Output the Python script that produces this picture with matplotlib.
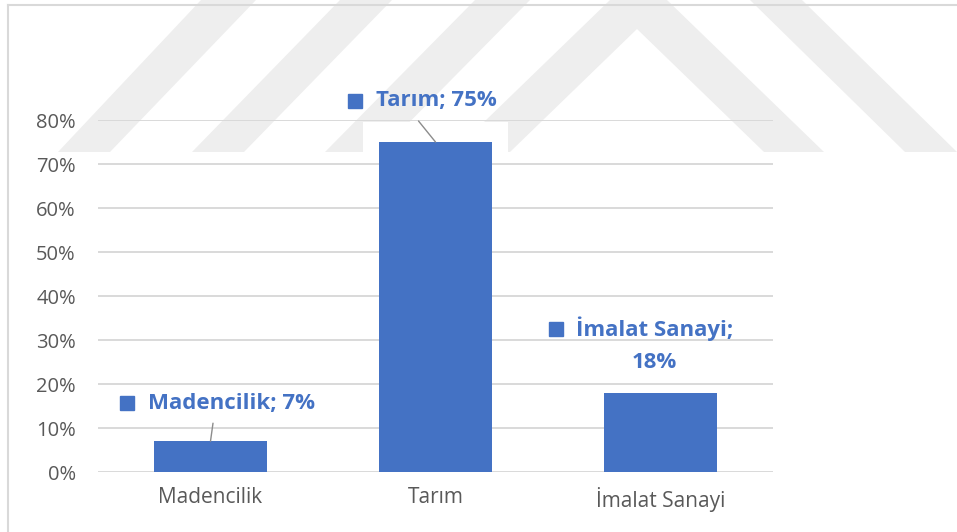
import numpy as np
import matplotlib
matplotlib.use("Agg")
import matplotlib.pyplot as plt
from matplotlib.patches import Polygon, Rectangle
from matplotlib.lines import Line2D
from matplotlib.transforms import ScaledTranslation

# data
categories = ["Madencilik", "Tarım", "İmalat Sanayi"]
shares = [0.07, 0.75, 0.18]
label_names = ["Madencilik; 7%", "Tarım; 75%", "İmalat Sanayi;"]
y_ticks = [0.0, 0.1, 0.2, 0.3, 0.4, 0.5, 0.6, 0.7, 0.8]

BLUE = "#4472C4"
GRID = "#d9d9d9"
TXT = "#595959"
W, H = 957, 532

plt.rcParams["font.family"] = ["Open Sans", "DejaVu Sans"]

fig = plt.figure(figsize=(W / 100, H / 100), dpi=100)
fig.patch.set_facecolor("white")


def fp(x, y):
    # pixel (top-left origin) -> figure fraction
    return (x / W, 1 - y / H)


# faint watermark bands behind the chart
bands = [
    [(58, 152), (110, 152), (256, 0), (201, 0)],
    [(192, 152), (244, 152), (392, 0), (340, 0)],
    [(325, 152), (380, 152), (530, 0), (475, 0)],
    [(453, 152), (610, 0), (667, 0), (824, 152), (764, 152), (637, 29), (510, 152)],
    [(750, 0), (802, 0), (957, 152), (905, 152)],
]
for b in bands:
    fig.add_artist(Polygon([fp(*p) for p in b], closed=True, transform=fig.transFigure,
                           facecolor="#eeeeee", edgecolor="none", zorder=-5))

# chart frame (top + left visible)
fig.add_artist(Line2D([8 / W, 1], [1 - 5 / H] * 2, transform=fig.transFigure,
                      color=GRID, lw=1.5, zorder=-4))
fig.add_artist(Line2D([8 / W] * 2, [1 - 5 / H, 0], transform=fig.transFigure,
                      color=GRID, lw=1.5, zorder=-4))

ax = fig.add_axes([98 / W, (H - 472) / H, 675 / W, 352 / H])
ax.patch.set_alpha(0)
x = np.arange(len(categories))

# soft white glow around bars (hides watermark only)
for xi, v in zip(x, shares):
    ax.add_patch(Rectangle((xi - 0.321, 0), 0.642, v + 0.045, facecolor="white",
                           edgecolor="none", zorder=1, clip_on=False))

for t in y_ticks:
    ax.axhline(t, color=GRID, lw=1.4, zorder=2)

ax.bar(x, shares, width=0.5, color=BLUE, zorder=3)

ax.set_xlim(-0.5, 2.5)
ax.set_ylim(0, 0.8)
ax.set_yticks(y_ticks)
ax.set_yticklabels([f"{int(round(t * 100))}%" for t in y_ticks])
ax.set_xticks(x)
ax.set_xticklabels(categories)
ax.tick_params(axis="y", length=0, pad=16, labelsize=14.5, labelcolor=TXT)
ax.tick_params(axis="x", length=0, pad=11, labelsize=15, labelcolor=TXT)
for s in ax.spines.values():
    s.set_visible(False)

# data labels: offsets in pixels from bar top
# (square dx, dy, text dx, dy, leader end dx, dy)
offsets = [
    (-84, 38, -62, 38, 2.5, 18),
    (-80.5, 41.5, -59, 42, -17, 21),
    (-104.5, 63.5, -6, 64, None, None),
]
dpi = fig.dpi
for i, (v, name, off) in enumerate(zip(shares, label_names, offsets)):
    sqx, sqy, tx, ty, lx, ly = off
    tr = ax.transData + ScaledTranslation(sqx / dpi, sqy / dpi, fig.dpi_scale_trans)
    ax.plot([x[i]], [v], marker="s", ms=10.5, color=BLUE, transform=tr,
            clip_on=False, zorder=5)
    ha = "center" if lx is None else "left"
    ax.annotate(name, xy=(x[i], v), xytext=(tx, ty), textcoords="offset pixels",
                ha=ha, va="center", fontsize=16, fontweight="bold", color=BLUE,
                zorder=5, annotation_clip=False)
    if lx is not None:
        ax.annotate("", xy=(x[i], v), xytext=(lx, ly), textcoords="offset pixels",
                    arrowprops=dict(arrowstyle="-", color="#8c8c8c", lw=1.0,
                                    shrinkA=0, shrinkB=0),
                    zorder=4, annotation_clip=False)
    else:
        ax.annotate(f"{int(round(v * 100))}%", xy=(x[i], v), xytext=(tx, 30),
                    textcoords="offset pixels", ha="center", va="center",
                    fontsize=16, fontweight="bold", color=BLUE, zorder=5,
                    annotation_clip=False)

fig.savefig("out.png", dpi=100)
